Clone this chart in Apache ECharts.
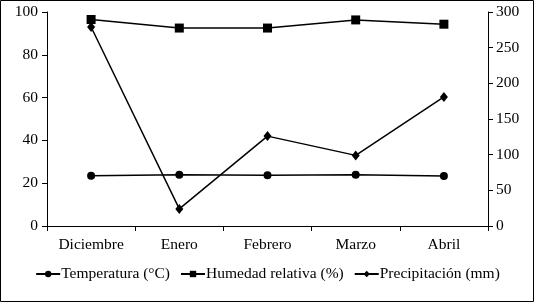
<!DOCTYPE html>
<html><head><meta charset="utf-8">
<script src="https://cdn.jsdelivr.net/npm/echarts@6/dist/echarts.min.js"></script>
<style>html,body{margin:0;padding:0;background:#fff}#c{width:535px;height:303px}</style>
</head><body><div id="c"></div>
<script>
const categories = ['Diciembre','Enero','Febrero','Marzo','Abril'];
const temperatura = [23.5, 24, 23.7, 24, 23.4];
const humedad = [96.5, 92.5, 92.5, 96.3, 94.3];
const precipitacion = [279, 24, 126, 99, 181];
const leftTicks = [0,20,40,60,80,100];
const rightTicks = [0,50,100,150,200,250,300];

const font = 'Liberation Serif';
const chart = echarts.init(document.getElementById('c'));
const lineStyle = {color:'#000', width:1.5};
chart.setOption({
  animation:false,
  textStyle:{fontFamily:font, color:'#000'},
  graphic:[{type:'rect', shape:{x:0.5,y:0.5,width:533,height:301}, style:{fill:null, stroke:'#000', lineWidth:1}}],
  grid:{left:47, right:47, top:12, bottom:77, containLabel:false},
  legend:{bottom:16, left:'center', itemGap:10, itemWidth:24, itemHeight:8,
    textStyle:{fontFamily:font, fontSize:15.5, color:'#000', padding:[0,0,0,-4]},
    data:['Temperatura (°C)','Humedad relativa (%)','Precipitación (mm)']},
  xAxis:{type:'category', data:categories, boundaryGap:true,
    axisLine:{lineStyle:{color:'#000', width:1}},
    axisTick:{show:true, inside:false, length:5, lineStyle:{color:'#000'}},
    axisLabel:{fontFamily:font, fontSize:15.5, color:'#000', margin:11}},
  yAxis:[
    {type:'value', min:0, max:100, interval:20, splitLine:{show:false},
     axisLine:{show:true, lineStyle:{color:'#000'}},
     axisTick:{show:true, length:5, lineStyle:{color:'#000'}},
     axisLabel:{fontFamily:font, fontSize:15.5, color:'#000', margin:9}},
    {type:'value', min:0, max:300, interval:50, position:'right', splitLine:{show:false},
     axisLine:{show:true, lineStyle:{color:'#000'}},
     axisTick:{show:true, length:5, lineStyle:{color:'#000'}},
     axisLabel:{fontFamily:font, fontSize:15.5, color:'#000', margin:8}}
  ],
  series:[
    {name:'Temperatura (°C)', type:'line', data:temperatura, yAxisIndex:0,
     symbol:'circle', symbolSize:8, lineStyle:lineStyle, itemStyle:{color:'#000'}},
    {name:'Humedad relativa (%)', type:'line', data:humedad, yAxisIndex:0,
     symbol:'rect', symbolSize:9, lineStyle:lineStyle, itemStyle:{color:'#000'}},
    {name:'Precipitación (mm)', type:'line', data:precipitacion, yAxisIndex:1,
     symbol:'diamond', symbolSize:[8,10], lineStyle:lineStyle, itemStyle:{color:'#000'}}
  ]
});
</script></body></html>
